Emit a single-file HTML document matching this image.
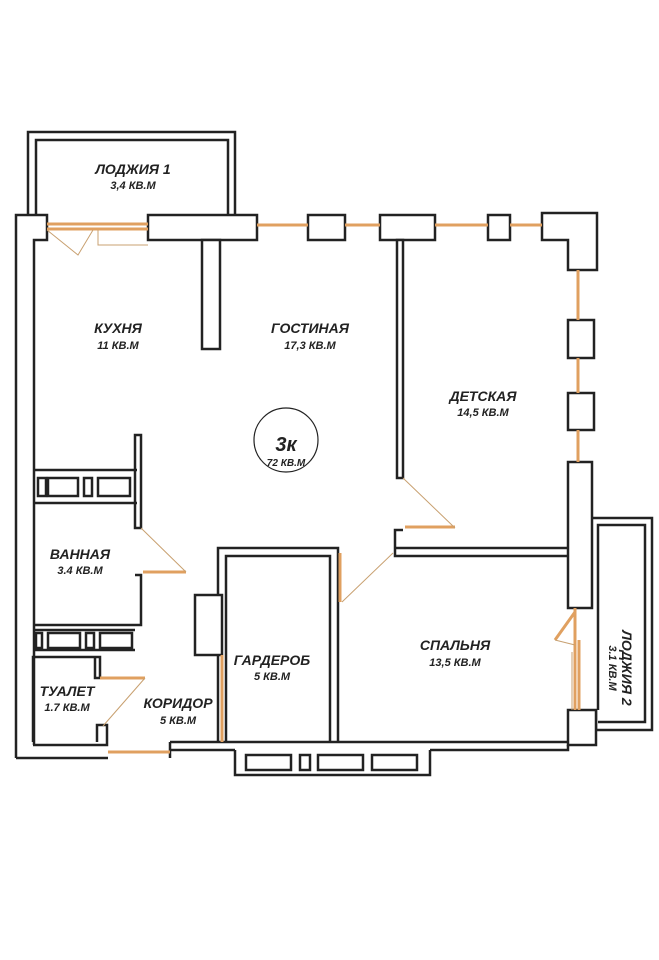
<!DOCTYPE html>
<html><head><meta charset="utf-8"><style>
html,body{margin:0;padding:0;background:#fff;width:659px;height:960px;overflow:hidden}
text{font-family:"Liberation Sans",sans-serif;font-weight:bold;font-style:italic;fill:#222;text-anchor:middle}
.t{font-size:14px}.s{font-size:11px}
</style></head><body>
<svg width="659" height="960" viewBox="0 0 659 960" xmlns="http://www.w3.org/2000/svg">
<g fill="none" stroke="#222" stroke-width="2.5">
<!-- loggia 1 -->
<path d="M28,215 V132 H235 V215"/>
<path d="M36,215 V140 H228 V215"/>
<!-- left outer wall -->
<path d="M16,758 V215 H47 V240 H34 V745"/>
<!-- top blocks -->
<rect x="148" y="215" width="109" height="25" fill="#fff"/>
<rect x="202" y="240" width="18" height="109" fill="#fff"/>
<rect x="308" y="215" width="37" height="25" fill="#fff"/>
<rect x="380" y="215" width="55" height="25" fill="#fff"/>
<rect x="488" y="215" width="22" height="25" fill="#fff"/>
<path d="M542,213 H597 V270 H568 V240 H542 Z" fill="#fff"/>
<!-- right wall blocks -->
<rect x="568" y="320" width="26" height="38" fill="#fff"/>
<rect x="568" y="393" width="26" height="37" fill="#fff"/>
<path d="M568,462 H592 V608 H568 Z" fill="#fff"/>
<path d="M592,518 H652 V730 H596 V710 M598,710 V525 H645 V722 H598"/>
<path d="M568,710 H596 V745 H568 Z" fill="#fff"/>
<!-- interior wall living/детская -->
<rect x="397" y="240" width="6" height="238" fill="#fff"/>
<path d="M403,530 H395 V548 H568 M395,548 V556 H568"/>
<!-- garderob -->
<path d="M218,742 V548 H338 V742"/>
<path d="M226,742 V556 H330 V742"/>
<rect x="195" y="595" width="27" height="60" fill="#fff"/>
<!-- bottom wall -->
<path d="M170,742 H568 M170,750 H235 M430,750 H568 V745"/>
<path d="M235,750 V775 H430 V750"/>
<rect x="246" y="755" width="45" height="15"/><rect x="300" y="755" width="10" height="15"/><rect x="318" y="755" width="45" height="15"/><rect x="372" y="755" width="45" height="15"/>
<!-- bathroom -->
<rect x="135" y="435" width="6" height="93" fill="#fff"/>
<path d="M34,470 H137 M34,503 H137"/>
<rect x="38" y="478" width="8" height="18"/><rect x="48" y="478" width="30" height="18"/><rect x="84" y="478" width="8" height="18"/><rect x="98" y="478" width="32" height="18"/>
<path d="M135,575 H141 V625 H34"/>
<path d="M34,630 H135 M34,650 H135"/>
<rect x="36" y="633" width="6" height="15"/><rect x="48" y="633" width="32" height="15"/><rect x="86" y="633" width="8" height="15"/><rect x="100" y="633" width="32" height="15"/>
<!-- toilet -->
<path d="M33,742 V657 H100 V678 H95 V657"/>
<path d="M33,745 H107 V725 H97 V742"/>
<path d="M16,758 H108 M170,742 V758"/>
<circle cx="286" cy="440" r="32" stroke-width="1.2"/>
</g>
<g stroke="#e0a060" stroke-width="3" fill="none">
<path d="M47,224 H148 M47,229 H148"/>
<path d="M257,225 H308 M345,225 H380 M435,225 H488 M510,225 H542"/>
<path d="M578,270 V320 M578,358 V393 M578,430 V462 M575,608 V710 M579,640 V710"/>
<path d="M405,527 H455 M340,553 V602 M143,572 H186 M100,678 H145 M108,752 H170 M222,655 V742"/>
<path d="M575,612 L555,640"/>
</g>
<g stroke="#c8a070" stroke-width="1" fill="none">
<path d="M47,230 L78,255 L93,230 M98,230 V245 H148"/>
<path d="M403,478 L455,528 M342,602 L393,553 M141,528 L186,572 M145,678 L103,726 M555,640 L575,645 M572,652 V710"/>
</g>
<text class="t" x="133" y="174">ЛОДЖИЯ 1</text><text class="s" x="133" y="189">3,4 КВ.М</text>
<text class="t" x="118" y="333">КУХНЯ</text><text class="s" x="118" y="349">11 КВ.М</text>
<text class="t" x="310" y="333">ГОСТИНАЯ</text><text class="s" x="310" y="349">17,3 КВ.М</text>
<text class="t" x="483" y="401">ДЕТСКАЯ</text><text class="s" x="483" y="416">14,5 КВ.М</text>
<text class="t" x="80" y="559">ВАННАЯ</text><text class="s" x="80" y="574">3.4 КВ.М</text>
<text class="t" x="272" y="665">ГАРДЕРОБ</text><text class="s" x="272" y="680">5 КВ.М</text>
<text class="t" x="455" y="650">СПАЛЬНЯ</text><text class="s" x="455" y="666">13,5 КВ.М</text>
<text class="t" x="67" y="696">ТУАЛЕТ</text><text class="s" x="67" y="711">1.7 КВ.М</text>
<text class="t" x="178" y="708">КОРИДОР</text><text class="s" x="178" y="724">5 КВ.М</text>
<text class="t" x="0" y="0" transform="translate(622,668) rotate(90)">ЛОДЖИЯ 2</text>
<text class="s" x="0" y="0" transform="translate(609,668) rotate(90)">3.1 КВ.М</text>
<text x="286" y="451" style="font-size:20px">3к</text><text class="s" x="286" y="466" style="font-size:10px">72 КВ.М</text>
</svg>
</body></html>
